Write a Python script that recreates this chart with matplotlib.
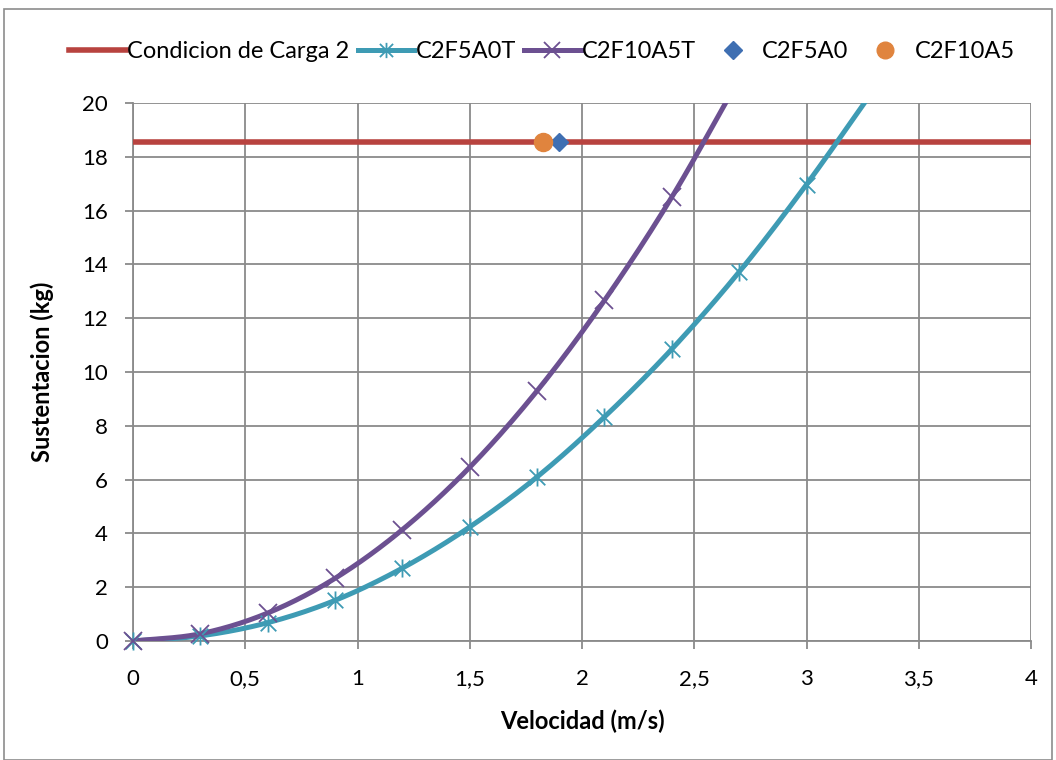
import numpy as np
import matplotlib
matplotlib.use("Agg")
import matplotlib.pyplot as plt
from matplotlib.patches import Rectangle
from matplotlib.path import Path

plt.rcParams['font.family'] = ['Lato', 'DejaVu Sans']

# datos
vel = [0, 0.3, 0.6, 0.9, 1.2, 1.5, 1.8, 2.1, 2.4, 2.7, 3.0, 3.3]
c2f5a0t = [0, 0.19, 0.68, 1.51, 2.71, 4.24, 6.1, 8.33, 10.85, 13.72, 16.97, 20.5]
vel_10 = [0, 0.3, 0.6, 0.9, 1.2, 1.5, 1.8, 2.1, 2.4, 2.7]
c2f10a5t = [0, 0.27, 1.04, 2.33, 4.14, 6.46, 9.3, 12.66, 16.5, 20.9]
carga = 18.55
c2f5a0 = (1.897, 18.55)
c2f10a5 = (1.826, 18.55)

xticks = [0, 0.5, 1, 1.5, 2, 2.5, 3, 3.5, 4]
xlabels = ['0', '0,5', '1', '1,5', '2', '2,5', '3', '3,5', '4']
yticks = list(range(0, 21, 2))
YMAX = 20

red = '#B8433F'
teal = '#3E9BB4'
purple = '#6C5091'
blue = '#3F6FB2'
orange = '#E0843E'
grid = '#8A8A8A'

# marcador asterisco de Excel (x con barra vertical)
star = Path([(-0.5, -0.5), (0.5, 0.5), (-0.5, 0.5), (0.5, -0.5), (0, -0.58), (0, 0.58)],
            [Path.MOVETO, Path.LINETO, Path.MOVETO, Path.LINETO, Path.MOVETO, Path.LINETO])


def smooth(x, y, n=30):
    # curva suavizada tipo Excel (Catmull-Rom)
    x = np.asarray(x, float)
    y = np.asarray(y, float)
    px = np.concatenate([[2*x[0]-x[1]], x, [2*x[-1]-x[-2]]])
    py = np.concatenate([[2*y[0]-y[1]], y, [2*y[-1]-y[-2]]])
    xs, ys = [], []
    t = np.linspace(0, 1, n)
    for i in range(1, len(px)-2):
        p0, p1, p2, p3 = [np.array([px[j], py[j]]) for j in range(i-1, i+3)]
        c1 = p1 + (p2 - p0) / 6
        c2 = p2 - (p3 - p1) / 6
        b = ((1-t)**3)[:, None]*p1 + (3*(1-t)**2*t)[:, None]*c1 \
            + (3*(1-t)*t**2)[:, None]*c2 + (t**3)[:, None]*p2
        xs.extend(b[:, 0]); ys.extend(b[:, 1])
    return xs, ys


def visible(x, y):
    x = np.asarray(x); y = np.asarray(y)
    m = y <= YMAX
    return x[m], y[m]


fig = plt.figure(figsize=(10.56, 7.6), dpi=100)
ax = fig.add_axes([133/1056, 1-641/760, (1031-133)/1056, (641-103)/760])

ax.axhline(carga, color=red, lw=4.0, zorder=3)

sx, sy = smooth(vel, c2f5a0t)
ax.plot(sx, sy, color=teal, lw=3.6, zorder=4)
mx, my = visible(vel, c2f5a0t)
ax.plot(mx, my, ls='none', marker=star, ms=13, mew=1.3, color=teal, fillstyle='none',
        zorder=5, clip_on=False)

sx, sy = smooth(vel_10, c2f10a5t)
ax.plot(sx, sy, color=purple, lw=3.6, zorder=4)
mx, my = visible(vel_10, c2f10a5t)
ax.plot(mx, my, ls='none', marker='x', ms=13.5, mew=1.3, color=purple, zorder=5, clip_on=False)

ax.plot([c2f5a0[0]], [c2f5a0[1]], ls='none', marker='D', ms=9.5, color=blue, zorder=6)
ax.plot([c2f10a5[0]], [c2f10a5[1]], ls='none', marker='o', ms=13, color=orange, zorder=6)

ax.set_xlim(0, 4)
ax.set_ylim(0, YMAX)
ax.set_xticks(xticks)
ax.set_xticklabels(xlabels)
ax.set_yticks(yticks)
ax.grid(True, color=grid, lw=1.3)
ax.set_axisbelow(True)
for s in ax.spines.values():
    s.set_color(grid)
    s.set_linewidth(1.3)
ax.spines['top'].set_visible(False)
ax.spines['right'].set_visible(False)
ax.tick_params(colors=grid, labelcolor='black', labelsize=16, length=6, width=1.3)
ax.tick_params(axis='y', pad=12)
ax.tick_params(axis='x', pad=14)

ax.set_xlabel('Velocidad (m/s)', fontsize=17, fontweight='bold', labelpad=15)
ax.set_ylabel('Sustentacion (kg)', fontsize=17, fontweight='bold', labelpad=20)

# leyenda
h = [
    plt.Line2D([], [], color=red, lw=4.0),
    plt.Line2D([], [], color=teal, lw=3.6, marker=star, ms=11, mew=1.3, fillstyle='none'),
    plt.Line2D([], [], color=purple, lw=3.6, marker='x', ms=11, mew=1.3),
    plt.Line2D([], [], ls='none', color=blue, marker='D', ms=9),
    plt.Line2D([], [], ls='none', color=orange, marker='o', ms=12),
]
labels = ['Condicion de Carga 2', 'C2F5A0T', 'C2F10A5T', 'C2F5A0', 'C2F10A5']
fig.legend(h, labels, loc='center', bbox_to_anchor=(542/1056, 1-52/760), ncol=5,
           frameon=False, fontsize=17, handlelength=2.4, handletextpad=0.05,
           columnspacing=0.35, borderpad=0)

fig.patches.append(Rectangle((4/1056, 0), 1048/1056, 1-9/760, transform=fig.transFigure,
                             fill=False, edgecolor='#8C8C8C', lw=1.2))

fig.savefig('out.png', dpi=100)
